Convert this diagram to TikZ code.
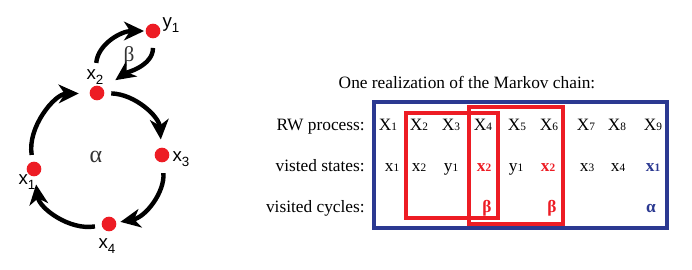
\documentclass[tikz,border=0pt]{standalone}
\usepackage{fontspec}
\setmainfont{Liberation Serif}
\newfontfamily\graphfont{Liberation Sans}
\usetikzlibrary{arrows.meta,positioning}
\definecolor{dotred}{RGB}{237,28,36}
\definecolor{boxblue}{RGB}{43,57,145}
\newcommand{\idx}[1]{{\fontsize{8.5}{10}\selectfont #1}}
\newcommand{\gidx}[1]{\raisebox{-0.45ex}{\fontsize{10}{12}\selectfont #1}}

\begin{document}
\begin{tikzpicture}[x=0.75pt,y=0.75pt,>=Latex,
    dot/.style={circle,fill=dotred,minimum size=11pt,inner sep=0pt},
    glabel/.style={font=\graphfont\fontsize{14}{16}\selectfont,inner sep=1pt},
    greek/.style={font=\fontsize{18}{20}\selectfont,inner sep=1pt,text=black!80},
    hop/.style={line width=3.3pt,-{Stealth[length=15pt,width=14pt,inset=4.5pt]},shorten <=5pt,shorten >=6pt},
    cell/.style={anchor=base,font=\fontsize{13}{15}\selectfont,inner sep=0pt},
    rowlbl/.style={anchor=base east,font=\fontsize{13}{15}\selectfont,inner sep=0pt},
    statecell/.style={},
    revisit/.style={text=dotred,font=\fontsize{13}{15}\selectfont\bfseries},
    cycend/.style={text=boxblue,font=\fontsize{13}{15}\selectfont\bfseries},
    frame/.style={line width=2.6pt}]
  \useasboundingbox (0,0) rectangle (692,269);

  % States of the chain.
  \node[dot] (x1) at (34,100) {};
  \node[dot] (x2) at (97,176) {};
  \node[dot] (x3) at (162,114) {};
  \node[dot] (x4) at (109,45) {};
  \node[dot] (y1) at (153,238) {};

  \node[glabel] (x1lbl) at (27,87) {x\gidx{1}};
  \node[glabel] (x2lbl) at (95,192) {x\gidx{2}};
  \node[glabel] (x3lbl) at (181,110) {x\gidx{3}};
  \node[glabel] (x4lbl) at (107,23) {x\gidx{4}};
  \node[glabel] (y1lbl) at (171,244) {y\gidx{1}};
  \node[greek] (alpha) at (96,112) {α};
  \node[greek,font=\fontsize{16}{18}\selectfont] (beta) at (129,213) {β};

  % Large cycle alpha and small cycle beta.
  \draw[hop,shorten >=8pt] (x1) to[bend left=49] (x2);
  \draw[hop] (x2) to[bend left=42] (x3);
  \draw[hop,shorten <=8pt,shorten >=3pt] (x3) to[bend left=42] (x4);
  \draw[hop] (x4) to[bend left=46] (x1);
  \draw[hop,shorten <=4pt,shorten >=1pt] (x2lbl) to[out=85,in=180] (y1);
  \draw[hop,shorten <=7pt,shorten >=11pt] (y1) to[out=-90,in=35] (x2);

  % One realization of the chain.
  \node[cell] (title) at (467,181) {One realization of the Markov chain:};
  \draw[frame,boxblue] (374,41) rectangle (667,167);
  \draw[frame,dotred] (406,51) rectangle (498,156);
  \draw[frame,dotred] (469,45) rectangle (563,162);

  \node[rowlbl] (rw) at (365,139) {RW process:};
  \node[rowlbl] (vs) at (365,98) {visted states:};
  \node[rowlbl] (vc) at (365,57) {visited cycles:};

  \foreach \i/\xx in {1/388,2/419,3/451,4/483,5/517,6/549,7/586,8/617,9/653}
    {\node[cell] (X\i) at (\xx,139) {X\idx{\i}};}

  \foreach \i/\xx/\s/\n/\st in {1/392/x/1/statecell,2/419/x/2/statecell,
      3/451/y/1/statecell,4/484/x/2/revisit,5/516/y/1/statecell,
      6/548/x/2/revisit,7/587/x/3/statecell,8/618/x/4/statecell,9/653/x/1/cycend}
    {\node[cell,\st] (s\i) at (\xx,98) {\s\idx{\n}};}

  \node[cell,revisit] (c4) at (487,57) {β};
  \node[cell,revisit] (c6) at (552,57) {β};
  \node[cell,cycend] (c9) at (651,57) {α};
\end{tikzpicture}
\end{document}
